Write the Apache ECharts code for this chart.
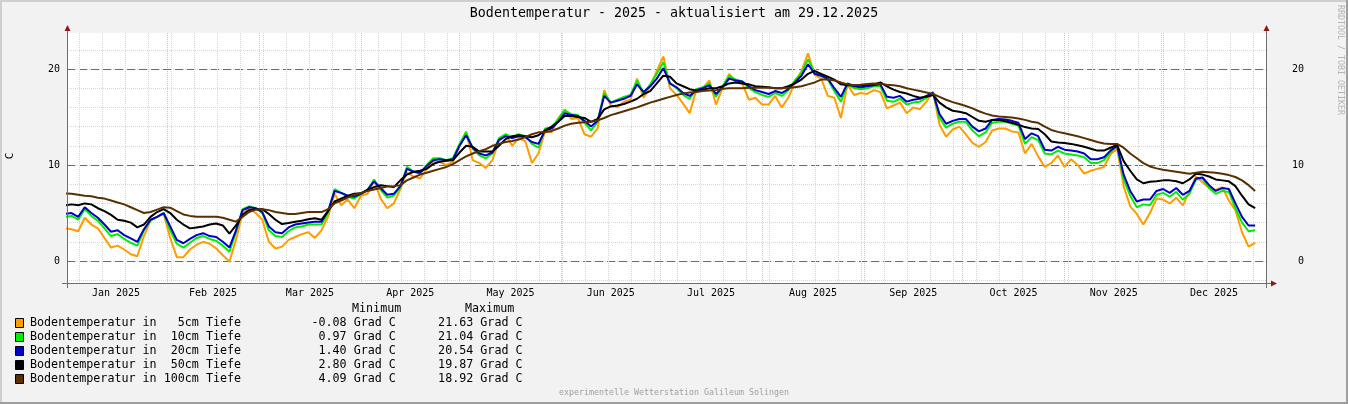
<!DOCTYPE html>
<html><head><meta charset="utf-8">
<script src="https://cdn.jsdelivr.net/npm/echarts@6/dist/echarts.min.js"></script>
<style>html,body{margin:0;padding:0;background:#f2f2f2;}#c{width:1348px;height:404px;}</style>
</head><body><div id="c"></div>
<script>
// ---------- data ----------
const chartTitle = 'Bodentemperatur - 2025 - aktualisiert am 29.12.2025';
const unitLabel = 'C';
const creditText = 'experimentelle Wetterstation Galileum Solingen';
const sideText = 'RRDTOOL / TOBI OETIKER';
const seriesNames = ['Bodentemperatur in   5cm Tiefe','Bodentemperatur in  10cm Tiefe','Bodentemperatur in  20cm Tiefe','Bodentemperatur in  50cm Tiefe','Bodentemperatur in 100cm Tiefe'];
const seriesColors = ['#ff9c00','#00ee00','#0000c8','#000000','#5a3000'];
const minValues = ['-0.08','0.97','1.40','2.80','4.09'];
const maxValues = ['21.63','21.04','20.54','19.87','18.92'];
const unitText = 'Grad C';
const monthLabels = ['Jan 2025','Feb 2025','Mar 2025','Apr 2025','May 2025','Jun 2025','Jul 2025','Aug 2025','Sep 2025','Oct 2025','Nov 2025','Dec 2025'];
const monthLengths = [31,28,31,30,31,30,31,31,30,31,30,31];
const weekGridStart = 4.3;   // first weekly grid line (day of year)
const stepDays = 2;          // sample spacing (days), first sample = Jan 1
const xMinDay = 0.6, xMaxDay = 365.3;
const yMin = -2.29, yMax = 23.75;

const t5 = [3.4,3.3,3.1,4.5,3.8,3.4,2.4,1.4,1.6,1.2,
0.7,0.5,2.6,4.2,4.6,4.9,2.4,0.4,0.4,1.2,
1.7,2.0,1.8,1.3,0.6,-0.08,2.2,5.0,5.5,5.0,
4.3,2.0,1.3,1.5,2.2,2.5,2.8,3.0,2.4,3.2,
4.6,7.0,5.8,6.4,5.5,6.8,7.0,8.4,6.5,5.5,
6.0,7.5,9.2,8.8,8.6,9.6,10.4,10.3,10.0,10.3,
12.0,13.5,10.5,10.2,9.7,10.5,12.6,13.2,12.0,12.8,
12.5,10.2,11.2,13.5,13.4,14.8,15.8,14.8,14.9,13.2,
12.95,13.8,17.8,16.2,16.0,16.6,16.8,19.0,17.0,18.2,
19.8,21.3,18.0,17.3,16.4,15.4,17.8,18.0,18.8,16.3,
18.0,19.5,18.6,18.5,16.8,17.0,16.3,16.3,17.2,16.0,
17.0,18.6,19.8,21.63,19.4,19.0,17.2,17.0,14.9,18.4,
17.3,17.5,17.4,17.8,17.6,15.9,16.2,16.5,15.4,16.0,
15.8,16.6,17.6,14.2,12.95,13.7,14.0,13.2,12.3,11.9,
12.4,13.6,13.8,13.8,13.5,13.4,11.2,12.2,10.9,9.8,
10.2,11.0,9.8,10.6,10.0,9.1,9.4,9.6,9.8,11.1,
11.7,7.8,5.7,4.9,3.8,5.0,6.5,6.4,6.0,6.6,
5.8,7.2,8.8,8.2,7.6,7.4,7.7,6.3,5.3,3.0,
1.5,1.9];
const t10 = [4.6,4.7,4.3,5.4,4.7,4.2,3.4,2.6,2.8,2.3,
1.9,1.6,3.2,4.2,4.6,5.0,3.2,1.8,1.4,1.9,
2.4,2.6,2.3,2.1,1.6,0.97,3.0,5.4,5.7,5.5,
5.0,3.2,2.6,2.5,3.1,3.5,3.6,3.8,3.8,3.8,
5.0,7.5,7.1,6.7,6.5,7.0,7.4,8.5,7.4,6.6,
6.8,7.7,9.8,9.3,9.1,10.0,10.7,10.7,10.5,10.7,
12.2,13.4,11.7,11.0,10.7,11.2,12.8,13.2,12.9,13.2,
13.0,12.2,11.8,13.8,13.9,14.8,15.7,15.3,15.2,14.4,
13.6,14.5,17.5,16.5,16.8,17.1,17.3,18.8,17.5,18.4,
19.5,20.7,18.5,18.0,17.3,16.9,17.9,18.1,18.5,17.1,
18.2,19.3,18.9,18.7,18.0,17.6,17.3,17.1,17.5,17.2,
17.8,18.8,19.6,21.0,19.7,19.3,18.9,17.7,16.6,18.4,
18.0,17.9,18.0,18.2,18.2,16.7,16.6,16.9,16.3,16.5,
16.6,17.0,17.6,14.9,13.9,14.3,14.5,14.5,13.6,13.0,
13.4,14.4,14.5,14.5,14.3,14.1,12.2,12.9,12.6,11.2,
11.1,11.5,11.2,11.1,11.0,10.8,10.2,10.2,10.5,11.3,
12.0,8.5,6.8,5.6,5.9,5.8,6.9,7.1,6.7,7.2,
6.4,7.0,8.5,8.6,7.6,7.0,7.3,7.2,5.5,4.0,
3.1,3.2];
const t20 = [4.9,5.0,4.6,5.6,5.0,4.5,3.8,3.05,3.2,2.7,
2.35,2.0,3.3,4.3,4.6,5.0,3.6,2.2,1.85,2.3,
2.7,2.9,2.6,2.5,2.0,1.4,3.2,5.3,5.6,5.5,
5.1,3.6,3.0,2.9,3.5,3.8,3.9,4.0,4.1,4.1,
5.2,7.3,7.1,6.8,6.7,7.0,7.4,8.3,7.6,6.9,
7.0,7.8,9.6,9.3,9.2,9.9,10.5,10.6,10.5,10.6,
12.0,13.1,11.8,11.2,11.0,11.3,12.6,13.0,12.8,13.0,
12.9,12.4,12.2,13.6,13.8,14.5,15.4,15.2,15.1,14.6,
14.0,14.6,17.2,16.5,16.7,16.9,17.2,18.4,17.6,18.2,
19.0,20.1,18.5,18.1,17.5,17.2,17.8,18.0,18.3,17.4,
18.1,19.0,18.8,18.7,18.2,17.8,17.6,17.4,17.7,17.5,
17.9,18.6,19.3,20.5,19.5,19.3,19.0,18.0,17.1,18.5,
18.2,18.1,18.2,18.3,18.4,17.1,17.0,17.2,16.6,16.8,
16.9,17.2,17.5,15.3,14.3,14.6,14.8,14.8,14.0,13.5,
13.8,14.7,14.8,14.75,14.6,14.4,12.7,13.3,13.0,11.6,
11.5,11.9,11.6,11.5,11.4,11.2,10.6,10.6,10.8,11.5,
12.0,9.0,7.3,6.2,6.4,6.4,7.3,7.5,7.1,7.6,
6.9,7.3,8.6,8.7,7.9,7.3,7.6,7.5,6.0,4.6,
3.7,3.7];
const t50 = [5.8,5.9,5.8,6.0,5.9,5.5,5.2,4.8,4.3,4.2,
4.0,3.5,3.8,4.6,5.1,5.4,5.0,4.3,3.8,3.4,
3.5,3.6,3.8,3.9,3.7,2.85,3.7,4.8,5.3,5.4,
5.4,4.9,4.3,3.85,3.95,4.1,4.2,4.35,4.45,4.3,
5.2,6.2,6.5,6.8,7.0,7.05,7.4,7.7,7.9,7.8,
7.7,8.4,9.0,9.3,9.4,9.6,10.1,10.35,10.45,10.5,
11.3,12.0,11.9,11.4,11.4,11.4,12.0,12.7,13.0,13.1,
13.0,12.9,13.1,13.6,14.0,14.5,15.1,15.1,15.0,14.9,
14.5,14.8,15.8,16.1,16.2,16.35,16.6,16.9,17.4,17.7,
18.5,19.3,19.2,18.5,18.2,17.9,17.75,17.85,18.0,18.0,
18.2,18.5,18.6,18.5,18.4,18.2,18.15,18.1,18.0,18.0,
18.2,18.5,18.9,19.5,19.8,19.5,19.2,18.9,18.4,18.3,
18.3,18.3,18.35,18.4,18.6,18.2,17.85,17.6,17.45,17.2,
17.0,17.1,17.3,16.5,16.0,15.65,15.55,15.4,15.0,14.6,
14.5,14.7,14.7,14.55,14.4,14.2,13.95,13.8,13.75,13.2,
12.45,12.35,12.3,12.2,12.05,11.9,11.7,11.5,11.5,11.8,
12.1,10.4,9.4,8.5,8.1,8.25,8.3,8.4,8.4,8.3,
8.1,8.5,9.1,9.0,8.8,8.5,8.4,8.3,7.8,6.8,
5.9,5.5];
const t100 = [7.05,7.0,6.9,6.8,6.75,6.6,6.5,6.3,6.1,5.9,
5.6,5.3,5.0,5.1,5.35,5.6,5.55,5.2,4.85,4.7,
4.6,4.6,4.6,4.6,4.5,4.3,4.1,4.6,5.1,5.35,
5.4,5.3,5.1,5.0,4.9,4.9,5.0,5.1,5.1,5.1,
5.4,6.0,6.3,6.6,6.9,7.05,7.3,7.45,7.6,7.75,
7.8,7.9,8.4,8.7,9.0,9.2,9.4,9.6,9.8,10.1,
10.5,10.9,11.2,11.45,11.65,12.0,12.2,12.4,12.5,12.65,
12.9,13.2,13.4,13.45,13.55,13.8,14.1,14.3,14.4,14.45,
14.5,14.65,14.9,15.2,15.4,15.6,15.8,16.0,16.25,16.5,
16.7,16.9,17.1,17.3,17.45,17.55,17.6,17.7,17.75,17.8,
17.95,18.0,18.0,18.0,18.05,18.05,18.05,18.05,18.0,18.0,
18.05,18.1,18.2,18.4,18.6,18.9,18.9,18.8,18.6,18.4,
18.3,18.35,18.45,18.5,18.45,18.35,18.3,18.2,18.0,17.85,
17.7,17.55,17.4,17.1,16.8,16.55,16.35,16.15,15.9,15.6,
15.35,15.15,15.05,15.0,14.95,14.85,14.7,14.5,14.4,14.0,
13.65,13.45,13.3,13.15,13.0,12.8,12.6,12.4,12.25,12.2,
12.2,11.8,11.2,10.7,10.2,9.85,9.65,9.5,9.4,9.3,
9.2,9.1,9.2,9.3,9.25,9.2,9.1,8.95,8.75,8.4,
7.9,7.3];
const seriesValues = [t5, t10, t20, t50, t100];

// ---------- derived axis helpers ----------
const monthStarts = [];
const monthMids = [];
{ let acc = 0; monthLengths.forEach(l => { monthStarts.push(acc); monthMids.push(acc + l / 2); acc += l; }); }
const weekLines = [];
for (let d = weekGridStart; d < xMaxDay; d += 7) weekLines.push(+d.toFixed(2));

const FONT = '"DejaVu Sans Mono", monospace';
const chart = echarts.init(document.getElementById('c'), null, {renderer: 'canvas'});

const graphic = [];
// frame
graphic.push({type:'rect', silent:true, shape:{x:0,y:0,width:1348,height:2}, style:{fill:'#cfcfcf'}});
graphic.push({type:'rect', silent:true, shape:{x:0,y:0,width:2,height:404}, style:{fill:'#cfcfcf'}});
graphic.push({type:'rect', silent:true, shape:{x:0,y:402,width:1348,height:2}, style:{fill:'#9e9e9e'}});
graphic.push({type:'rect', silent:true, shape:{x:1346,y:0,width:2,height:404}, style:{fill:'#9e9e9e'}});
// title & texts
graphic.push({type:'text', silent:true, x:674, y:14, style:{text:chartTitle, font:'13.3px ' + FONT, fill:'#000', align:'center', verticalAlign:'middle'}});
graphic.push({type:'text', silent:true, x:10, y:156, rotation:Math.PI/2, style:{text:unitLabel, font:'11px ' + FONT, fill:'#000', align:'center', verticalAlign:'middle'}});
graphic.push({type:'text', silent:true, x:1340, y:60, rotation:-Math.PI/2, style:{text:sideText, font:'8.3px ' + FONT, fill:'#b4b4b4', align:'center', verticalAlign:'middle'}});
graphic.push({type:'text', silent:true, x:674, y:393, style:{text:creditText, font:'8.3px ' + FONT, fill:'#a0a0a0', align:'center', verticalAlign:'middle'}});
// axes (chrome)
const axisCol = '#6e6e6e', arrowCol = '#8b1a1a';
graphic.push({type:'line', silent:true, z:50, shape:{x1:67.5,y1:29,x2:67.5,y2:288}, style:{stroke:axisCol, lineWidth:1}});
graphic.push({type:'line', silent:true, z:50, shape:{x1:1266.5,y1:29,x2:1266.5,y2:288}, style:{stroke:axisCol, lineWidth:1}});
graphic.push({type:'line', silent:true, z:50, shape:{x1:62,y1:283.5,x2:1272,y2:283.5}, style:{stroke:axisCol, lineWidth:1}});
graphic.push({type:'polygon', silent:true, z:51, shape:{points:[[67.5,25],[64.5,31],[70.5,31]]}, style:{fill:arrowCol}});
graphic.push({type:'polygon', silent:true, z:51, shape:{points:[[1266.5,25],[1263.5,31],[1269.5,31]]}, style:{fill:arrowCol}});
graphic.push({type:'polygon', silent:true, z:51, shape:{points:[[1277,283.5],[1271,280.5],[1271,286.5]]}, style:{fill:arrowCol}});
// legend
graphic.push({type:'text', silent:true, x:352, y:309, style:{text:'Minimum', font:'11.7px ' + FONT, fill:'#000', align:'left', verticalAlign:'middle'}});
graphic.push({type:'text', silent:true, x:465, y:309, style:{text:'Maximum', font:'11.7px ' + FONT, fill:'#000', align:'left', verticalAlign:'middle'}});
seriesNames.forEach((n, i) => {
  const y = 323 + 14 * i;
  graphic.push({type:'rect', silent:true, shape:{x:15.5,y:y-4.5,width:8,height:9}, style:{fill:seriesColors[i], stroke:'#000', lineWidth:1}});
  const row = n + minValues[i].padStart(15) + ' ' + unitText + maxValues[i].padStart(11) + ' ' + unitText;
  graphic.push({type:'text', silent:true, x:30, y:y, style:{text:row, font:'11.7px ' + FONT, fill:'#000', align:'left', verticalAlign:'middle'}});
});

const option = {
  animation: false,
  backgroundColor: '#f2f2f2',
  textStyle: {fontFamily: FONT},
  grid: {left:67, top:33, right:82, bottom:121, show:true, backgroundColor:'#ffffff', borderWidth:0},
  xAxis: [
    {type:'value', min:xMinDay, max:xMaxDay, position:'bottom',
     axisLine:{show:false}, axisTick:{show:false, customValues: weekLines},
     splitLine:{show:true, lineStyle:{color:'#d6d6d6', width:1, type:[1,1]}},
     axisLabel:{show:true, customValues: monthMids, margin:5, fontSize:10, color:'#000', fontFamily:FONT,
       formatter: v => { const i = monthMids.findIndex(m => Math.abs(m - v) < 0.01); return i >= 0 ? monthLabels[i] : ''; }}},
    {type:'value', min:xMinDay, max:xMaxDay, position:'top',
     axisLine:{show:false}, axisTick:{show:false, customValues: monthStarts}, axisLabel:{show:false},
     splitLine:{show:true, lineStyle:{color:'rgba(222,80,80,0.4)', width:1, type:[1,1]}}}
  ],
  yAxis: [
    {type:'value', min:yMin, max:yMax, minInterval:2, maxInterval:2, position:'left',
     axisLine:{show:false}, axisTick:{show:false},
     splitLine:{show:true, showMinLine:false, showMaxLine:false, lineStyle:{color:'#d6d6d6', width:1, type:[1,1]}},
     axisLabel:{margin:7, fontSize:10, color:'#000', fontFamily:FONT, showMinLabel:false, showMaxLabel:false,
       formatter: v => (Math.abs(v % 10) < 1e-6 ? String(Math.round(v)) : '')}},
    {type:'value', min:yMin, max:yMax, minInterval:10, maxInterval:10, position:'right',
     axisLine:{show:false}, axisTick:{show:false},
     splitLine:{show:true, showMinLine:false, showMaxLine:false, lineStyle:{color:'#6a6a6a', width:1, type:[8,4]}},
     axisLabel:{margin:38, align:'right', fontSize:10, color:'#000', fontFamily:FONT, showMinLabel:false, showMaxLabel:false,
       formatter: v => (Math.abs(v % 10) < 1e-6 ? String(Math.round(v)) : '')}}
  ],
  series: seriesValues.map((arr, i) => ({
    name: seriesNames[i], type:'line', xAxisIndex:0, yAxisIndex:0, silent:true,
    symbol:'none', showSymbol:false, clip:true, z: 2 + i,
    lineStyle:{color:seriesColors[i], width:2}, itemStyle:{color:seriesColors[i]},
    data: arr.map((v, k) => [k * stepDays, v])
  })),
  graphic: graphic
};
chart.setOption(option);
</script>
</body></html>
